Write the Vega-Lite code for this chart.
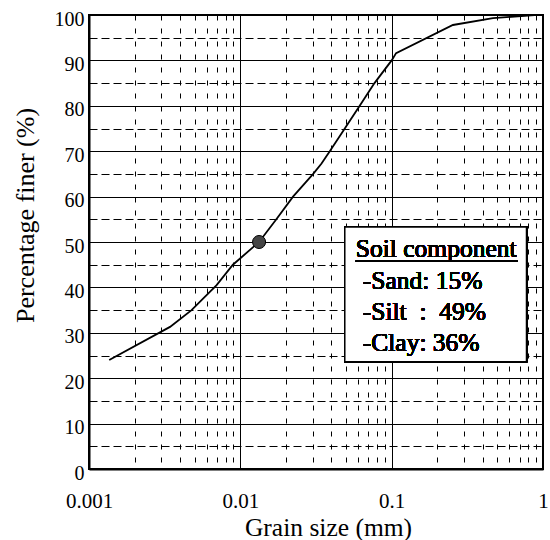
{
  "$schema": "https://vega.github.io/schema/vega-lite/v6.json",
  "autosize": {"type": "none"},
  "padding": {"left": 89, "top": 15, "right": 7, "bottom": 71},
  "width": 454,
  "height": 454,
  "background": "white",
  "config": {
    "view": {"stroke": "black", "strokeWidth": 2},
    "font": "Liberation Serif",
    "axis": {"labelFont": "Liberation Serif", "titleFont": "Liberation Serif", "labelColor": "black", "titleColor": "black", "titleFontWeight": "normal", "domainColor": "black", "domainWidth": 2}
  },
  "resolve": {"axis": {"x": "independent", "y": "independent"}},
  "data": {"values": [
    {"d": 0.00136, "p": 24.0},
    {"d": 0.00343, "p": 31.3},
    {"d": 0.00476, "p": 35.0},
    {"d": 0.00697, "p": 40.5},
    {"d": 0.00893, "p": 45.0},
    {"d": 0.0133, "p": 50.0},
    {"d": 0.0173, "p": 55.0},
    {"d": 0.0223, "p": 60.0},
    {"d": 0.0303, "p": 65.0},
    {"d": 0.0344, "p": 67.3},
    {"d": 0.039, "p": 70.0},
    {"d": 0.049, "p": 75.0},
    {"d": 0.0615, "p": 80.0},
    {"d": 0.077, "p": 85.0},
    {"d": 0.1, "p": 90.0},
    {"d": 0.107, "p": 91.6},
    {"d": 0.254, "p": 97.8},
    {"d": 0.467, "p": 99.3},
    {"d": 0.88, "p": 100.0}
  ]},
  "layer": [
    {
      "mark": {"type": "line", "color": "black", "strokeWidth": 1.8},
      "encoding": {
        "x": {"field": "d", "type": "quantitative",
          "scale": {"type": "log", "domain": [0.001, 1], "nice": false},
          "axis": {
            "title": "Grain size (mm)",
            "values": [0.001,0.002,0.003,0.004,0.005,0.006,0.007,0.008,0.009,0.01,0.02,0.03,0.04,0.05,0.06,0.07,0.08,0.09,0.1,0.2,0.3,0.4,0.5,0.6,0.7,0.8,0.9,1],
            "labelExpr": "datum.value == 0.001 ? '0.001' : datum.value == 0.01 ? '0.01' : datum.value == 0.1 ? '0.1' : datum.value == 1 ? '1' : ''",
            "labelOverlap": false,
            "labelFlush": false,
            "labelFontSize": 21,
            "labelBaseline": "alphabetic",
            "labelPadding": 38,
            "ticks": false,
            "tickSize": 0,
            "grid": true,
            "gridColor": "black",
            "gridOpacity": 1,
            "gridWidth": 1,
            "gridDash": {"condition": {"test": "datum.value == 0.001 || datum.value == 0.01 || datum.value == 0.1 || datum.value == 1", "value": []}, "value": [5, 8]},
            "titleFontSize": 25.5,
            "titleX": 239,
            "titleY": 66,
            "titleBaseline": "alphabetic",
            "titleAlign": "center",
            "titleAnchor": null
          }
        },
        "y": {"field": "p", "type": "quantitative",
          "scale": {"domain": [0, 100], "nice": false},
          "axis": {
            "title": "Percentage finer (%)",
            "values": [0,5,10,15,20,25,30,35,40,45,50,55,60,65,70,75,80,85,90,95,100],
            "labelExpr": "datum.value % 10 == 0 ? datum.label : ''",
            "labelOverlap": false,
            "labelFlush": false,
            "labelFontSize": 20,
            "labelBaseline": "middle",
            "labelOffset": 4,
            "labelPadding": 5,
            "ticks": false,
            "tickSize": 0,
            "grid": true,
            "gridColor": "black",
            "gridOpacity": 1,
            "gridWidth": 1.2,
            "gridDash": {"condition": {"test": "datum.value % 10 == 0", "value": []}, "value": [8, 4]},
            "titleFontSize": 26,
            "titleX": -56,
            "titleY": 200,
            "titleAngle": 270,
            "titleBaseline": "alphabetic",
            "titleAlign": "center",
            "titleAnchor": null
          }
        }
      }
    },
    {
      "transform": [{"filter": "datum.p == 50"}],
      "mark": {"type": "point", "shape": "circle", "filled": true, "size": 170, "fill": "#444444", "stroke": "black", "strokeWidth": 1, "opacity": 1},
      "encoding": {
        "x": {"field": "d", "type": "quantitative", "axis": null},
        "y": {"field": "p", "type": "quantitative", "axis": null}
      }
    },
    {
      "mark": {"type": "rect", "fill": "white", "stroke": "black", "strokeWidth": 1.5},
      "encoding": {
        "x": {"datum": 0.049, "type": "quantitative", "axis": null},
        "x2": {"datum": 0.778},
        "y": {"datum": 53.3, "type": "quantitative", "axis": null},
        "y2": {"datum": 23.6}
      }
    },
    {
      "mark": {"type": "text", "text": "Soil component", "font": "Liberation Serif", "fontSize": 25.5, "align": "left", "baseline": "alphabetic", "fill": "black"},
      "encoding": {
        "x": {"datum": 0.0579, "type": "quantitative", "axis": null},
        "y": {"datum": 46.7, "type": "quantitative", "axis": null}
      }
    },
    {
      "mark": {"type": "rule", "color": "black", "strokeWidth": 1.2},
      "encoding": {
        "x": {"datum": 0.0579, "type": "quantitative", "axis": null},
        "x2": {"datum": 0.679},
        "y": {"datum": 45.8, "type": "quantitative", "axis": null}
      }
    },
    {
      "mark": {"type": "text", "text": ["-Sand: 15%", "-Silt\u00a0 :\u00a0\u00a049%", "-Clay: 36%"], "lineHeight": 31, "font": "Liberation Serif", "fontSize": 25.5, "align": "left", "baseline": "alphabetic", "fill": "black"},
      "encoding": {
        "x": {"datum": 0.0644, "type": "quantitative", "axis": null},
        "y": {"datum": 39.6, "type": "quantitative", "axis": null}
      }
    }
  ]
}
